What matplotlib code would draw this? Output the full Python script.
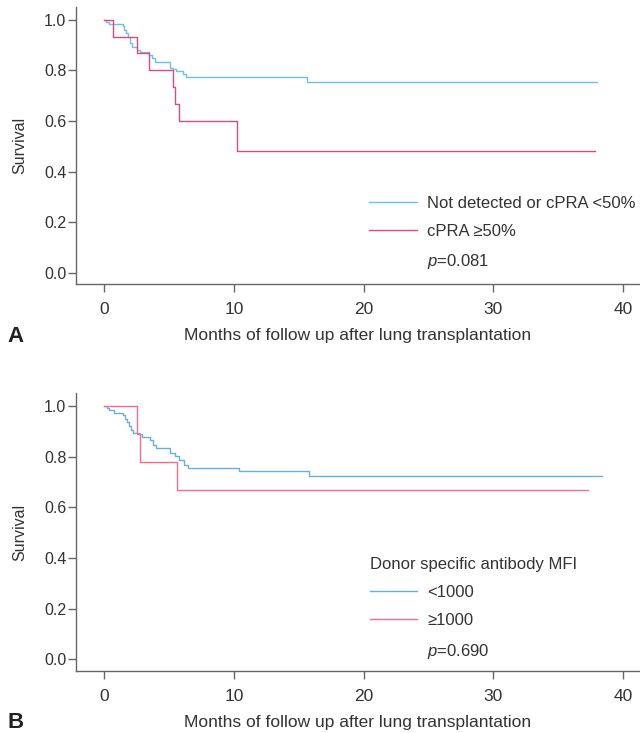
import matplotlib

matplotlib.use("Agg")
import matplotlib.pyplot as plt
from matplotlib.lines import Line2D

plt.rcParams['font.family'] = ['Liberation Sans', 'DejaVu Sans']
plt.rcParams['mathtext.fontset'] = 'custom'
plt.rcParams['mathtext.it'] = 'Liberation Sans:italic'
plt.rcParams['mathtext.rm'] = 'Liberation Sans'

# panel A: cPRA groups (Kaplan-Meier steps)
a_low_t = [0, 0.1, 0.34, 1.42, 1.55, 1.67, 1.85, 1.98, 2.11, 2.55, 2.75, 3.47, 3.65,
           3.91, 5.07, 5.28, 5.53, 6.04, 6.30, 15.6, 38.0]
a_low_s = [1.0, 0.99, 0.984, 0.974, 0.96, 0.947, 0.934, 0.908, 0.892, 0.881, 0.872, 0.861,
           0.848, 0.834, 0.811, 0.806, 0.798, 0.786, 0.774, 0.756, 0.756]
a_high_t = [0, 0.69, 2.5, 3.42, 5.32, 5.48, 5.74, 10.2, 37.8]
a_high_s = [1.0, 0.933, 0.867, 0.8, 0.733, 0.667, 0.6, 0.48, 0.48]
a_labels = ['Not detected or cPRA <50%', 'cPRA \u226550%']
a_p = '$p$=0.081'

# panel B: donor specific antibody MFI
b_low_t = [0, 0.18, 0.39, 0.77, 1.47, 1.6, 1.75, 1.9, 2.05, 2.19, 2.70, 2.88, 3.52, 3.78,
           3.99, 5.07, 5.45, 5.79, 6.15, 6.48, 10.4, 15.8, 38.4]
b_low_s = [1.0, 0.992, 0.986, 0.974, 0.963, 0.95, 0.935, 0.92, 0.905, 0.895, 0.891, 0.877,
           0.864, 0.844, 0.835, 0.814, 0.804, 0.785, 0.768, 0.756, 0.743, 0.723, 0.723]
b_high_t = [0, 2.55, 2.75, 5.58, 37.3]
b_high_s = [1.0, 0.889, 0.778, 0.667, 0.667]
b_labels = ['<1000', '\u22651000']
b_title = 'Donor specific antibody MFI'
b_p = '$p$=0.690'

yticks = [0.0, 0.2, 0.4, 0.6, 0.8, 1.0]
xticks = [0, 10, 20, 30, 40]

fs = 12
fig = plt.figure(figsize=(6.4, 7.33), dpi=100)
ax_a = fig.add_axes([0.11875, 0.6121, 0.88125, 0.3784])
ax_b = fig.add_axes([0.11875, 0.0846, 0.88125, 0.3792])

def style_axis(ax):
    for s in ['top', 'right']:
        ax.spines[s].set_visible(False)
    for s in ['left', 'bottom']:
        ax.spines[s].set_color('#666666')
        ax.spines[s].set_linewidth(1.0)
    ax.set_xlim(-2.18, 41.3)
    ax.set_ylim(-0.046, 1.051)
    ax.set_yticks(yticks)
    ax.set_yticklabels([f'{v:.1f}' for v in yticks])
    ax.set_xticks(xticks)
    ax.tick_params(axis='y', length=5.5, width=1.0, color='#666666', pad=1.5,
                   labelsize=11.5, labelcolor='#333333')
    ax.tick_params(axis='x', length=5.5, width=1.0, color='#666666', pad=7.5,
                   labelsize=12.5, labelcolor='#333333')
    ax.set_ylabel('Survival', fontsize=11.5, color='#333333', labelpad=12)
    ax.set_xlabel('Months of follow up after lung transplantation', fontsize=12.5,
                  color='#333333', labelpad=8)

style_axis(ax_a)
style_axis(ax_b)

la1, = ax_a.step(a_low_t, a_low_s, where='post', color='#6cc0ea', lw=1.0)
la2, = ax_a.step(a_high_t, a_high_s, where='post', color='#de4a7c', lw=1.0)
blank = Line2D([], [], color='none')
ax_a.legend([la1, la2, blank], a_labels + [a_p], loc='upper left',
            bbox_to_anchor=(0.5766, 0.733), bbox_transform=fig.transFigure,
            frameon=False, fontsize=fs, handlelength=2.85, handletextpad=0.6,
            labelspacing=0.8, borderpad=0, borderaxespad=0, labelcolor='#333333')

lb1, = ax_b.step(b_low_t, b_low_s, where='post', color='#6aaede', lw=1.0)
lb2, = ax_b.step(b_high_t, b_high_s, where='post', color='#f46e8c', lw=1.0)
leg_b = ax_b.legend([lb1, lb2, blank], b_labels + [b_p], loc='upper left',
                    bbox_to_anchor=(0.578, 0.2395), bbox_transform=fig.transFigure,
                    frameon=False, fontsize=fs, handlelength=2.85, handletextpad=0.6,
                    labelspacing=0.8, borderpad=0, borderaxespad=0,
                    labelcolor='#333333', title=b_title, title_fontsize=fs,
                    alignment='left')
leg_b.get_title().set_color('#333333')
leg_b._legend_box.sep = 9

fig.text(0.012, 1 - 337 / 733, 'A', fontsize=16, fontweight='bold', va='center', ha='left',
         color='#222222')
fig.text(0.012, 1 - 722 / 733, 'B', fontsize=16, fontweight='bold', va='center', ha='left',
         color='#222222')

fig.savefig('out.png', dpi=100)
